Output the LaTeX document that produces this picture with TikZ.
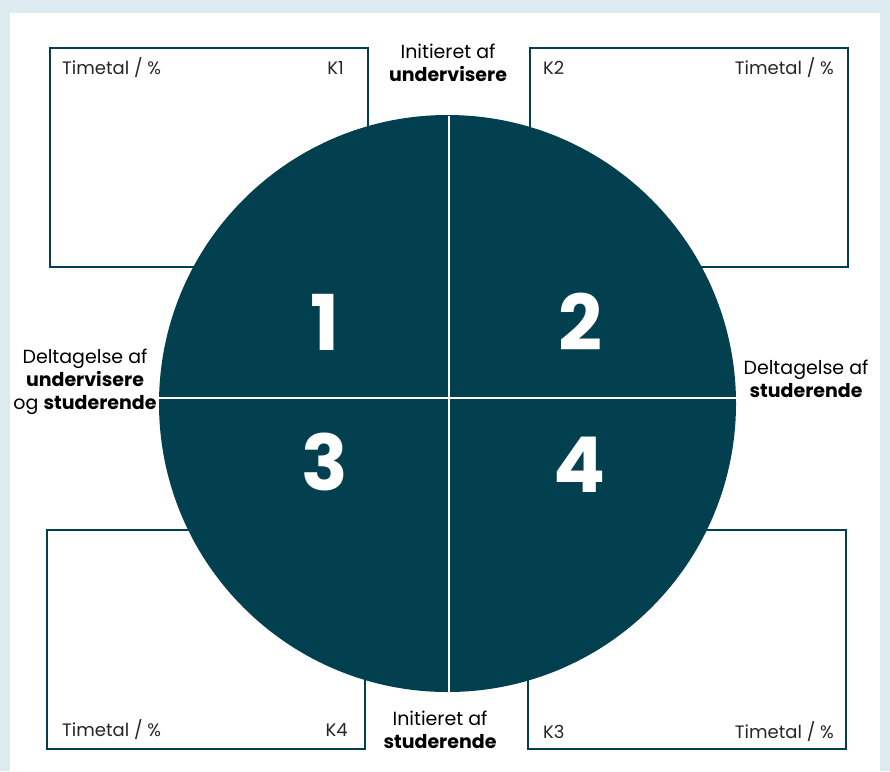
\documentclass[tikz,border=0pt]{standalone}
\usepackage{fontspec}
\setmainfont{Poppins}
\usetikzlibrary{positioning}
\definecolor{petrol}{HTML}{03404F}
\definecolor{frame}{HTML}{DCEBF0}

\begin{document}
\begin{tikzpicture}[x=1pt, y=-1pt,
  kbox/.style={draw=petrol, line width=2pt, minimum width=318pt, minimum height=219pt,
               inner sep=0pt, fill=white},
  lbl/.style={font=\fontsize{18}{21}\selectfont, text=black!85, inner sep=0pt},
  axis/.style={font=\fontsize{19}{23}\selectfont, align=center, inner sep=0pt},
  num/.style={font=\fontsize{77}{77}\selectfont\bfseries, text=white, inner sep=0pt},
  split/.style={draw=white, line width=1.6pt}]

  % background
  \fill[frame] (0,0) rectangle (890,771);
  \fill[white] (10,13) rectangle (880,771);
  \useasboundingbox (0,0) rectangle (890,771);

  % corner boxes
  \node[kbox] (k1) at (208.5,157) {};
  \node[kbox] (k2) at (688.5,157) {};
  \node[kbox] (k4) at (206,639.5) {};
  \node[kbox] (k3) at (686.5,639.5) {};

  \node[lbl, anchor=west] (k1t) at (62,68) {Timetal / \%};
  \node[lbl, anchor=east] (k1n) at (344,68) {K1};
  \node[lbl, anchor=west] (k2n) at (543,68) {K2};
  \node[lbl, anchor=east] (k2t) at (834,68) {Timetal / \%};
  \node[lbl, anchor=west] (k4t) at (62,730) {Timetal / \%};
  \node[lbl, anchor=east] (k4n) at (348,730) {K4};
  \node[lbl, anchor=west] (k3n) at (543,732) {K3};
  \node[lbl, anchor=east] (k3t) at (834,732) {Timetal / \%};

  % the wheel
  \node[circle, fill=petrol, minimum size=577pt, inner sep=0pt] (wheel) at (447.5,403.5) {};
  \coordinate (vt) at (449,115.5);
  \coordinate (vb) at (449,691.5);
  \coordinate (hl) at (159.1,398);
  \coordinate (hr) at (735.9,398);
  \draw[split] (vt) -- (vb);
  \draw[split] (hl) -- (hr);

  \node[num] (q1) at (325,322) {1};
  \node[num] (q2) at (580,322) {2};
  \node[num] (q3) at (325,462) {3};
  \node[num] (q4) at (580,465) {4};

  % axis labels
  \node[axis] (top) at (448,63) {Initieret af\\\textbf{undervisere}};
  \node[axis] (bot) at (440,730) {Initieret af\\\textbf{studerende}};
  \node[axis] (lft) at (85,382) {Deltagelse af\\\textbf{undervisere}\\og \textbf{studerende}};
  \node[axis] (rgt) at (806,379) {Deltagelse af\\\textbf{studerende}};
\end{tikzpicture}
\end{document}
